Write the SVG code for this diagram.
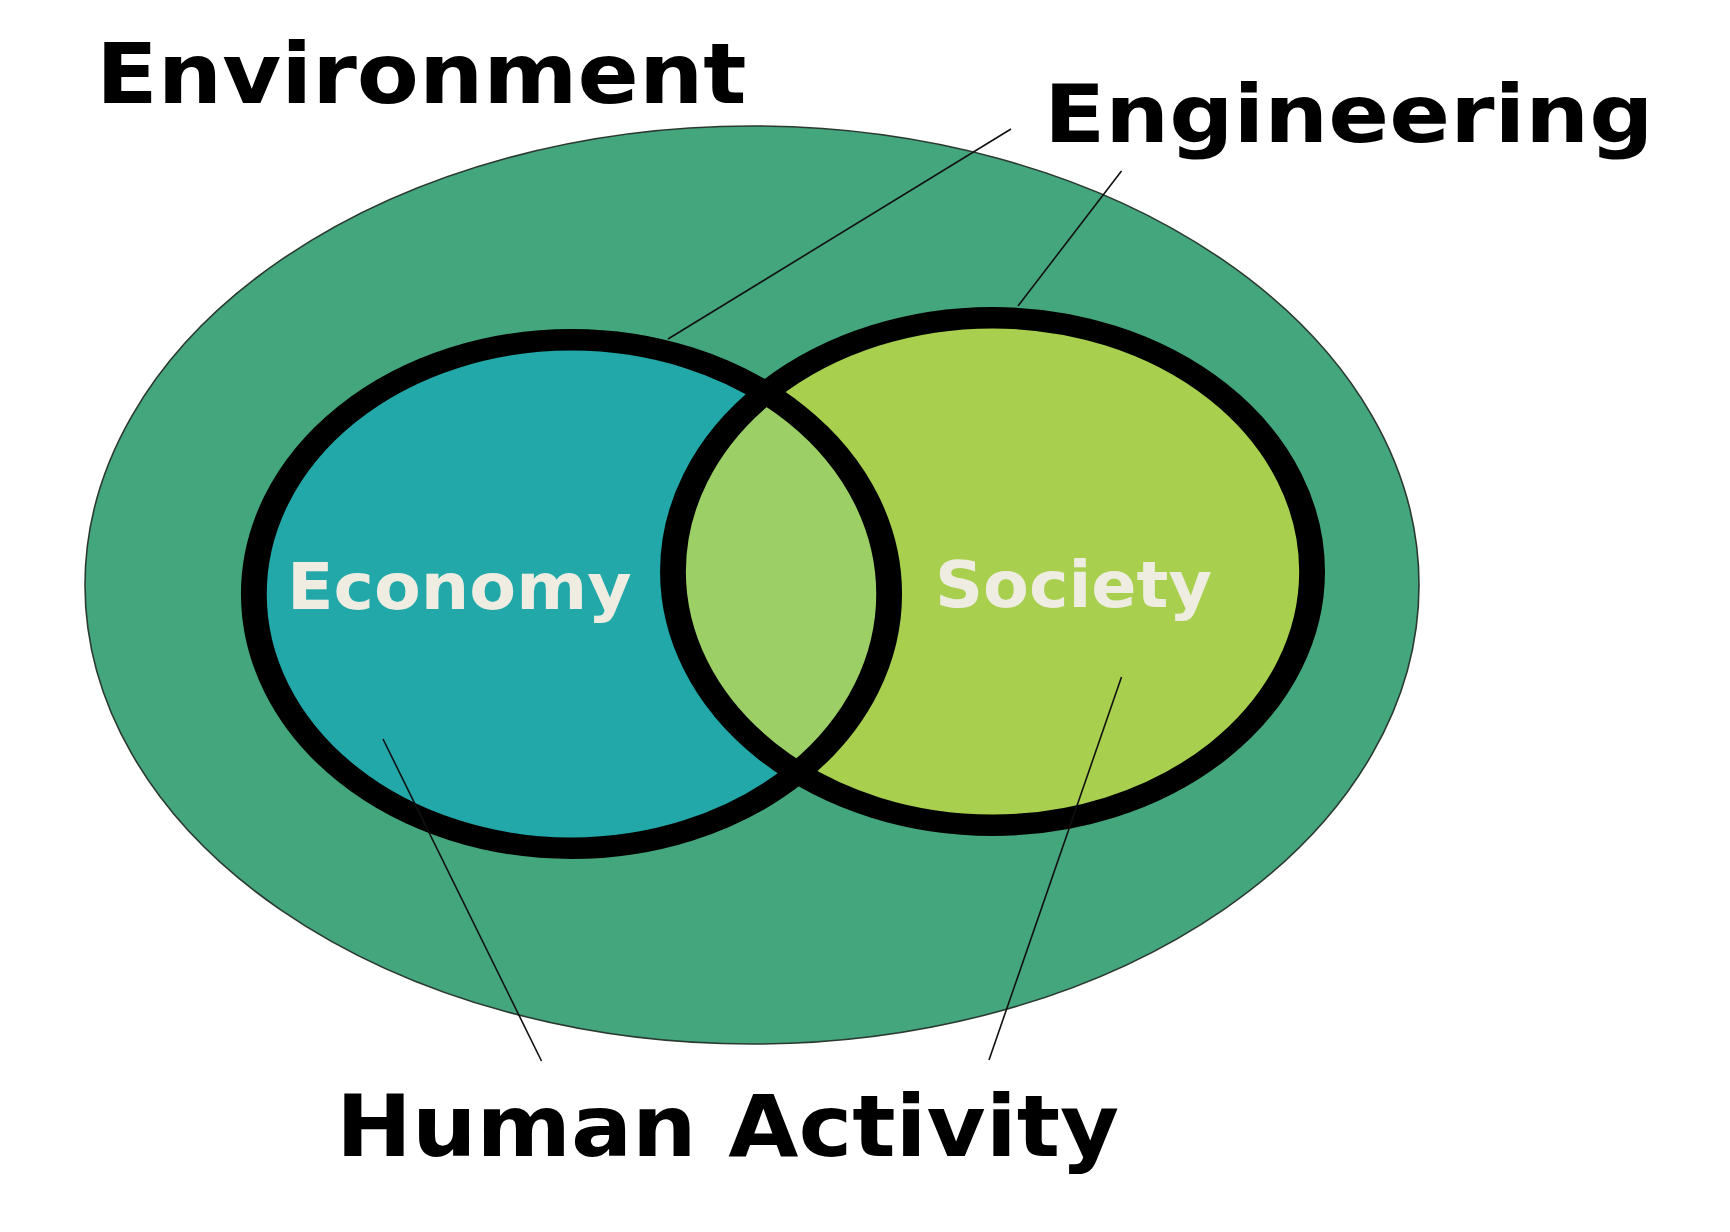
<svg xmlns="http://www.w3.org/2000/svg" width="1730" height="1232" viewBox="0 0 1730 1232">
  <style>
    .lbl { font-family: "DejaVu Sans", Verdana, sans-serif; font-weight: bold; fill: #000; }
    .inner { font-family: "DejaVu Sans", Verdana, sans-serif; font-weight: bold; fill: #EFEDE1; }
    .ring { fill: none; stroke: #000; stroke-width: 21.5; }
    .leader { stroke: #111; stroke-width: 1.6; fill: none; }
  </style>
  <defs>
    <clipPath id="econClip">
      <ellipse cx="476.25" cy="594" rx="264.7" ry="254.25"/>
    </clipPath>
  </defs>
  <rect x="0" y="0" width="1730" height="1232" fill="#ffffff"/>

  <g id="environment">
    <ellipse cx="752" cy="585" rx="667" ry="459" fill="#44A67C" stroke="#2a3a30" stroke-width="1.6"/>
    <text class="lbl" transform="translate(96,103) scale(1.09,1)" x="0" y="0" font-size="83">Environment</text>
  </g>

  <g transform="scale(1.2,1)">
    <g id="economy-fill">
      <ellipse cx="476.25" cy="594" rx="264.7" ry="254.25" fill="#22A8A9"/>
    </g>
    <g id="society-fill">
      <ellipse cx="827.1" cy="571.5" rx="266.3" ry="253.75" fill="#A8CF4E"/>
    </g>
    <g id="overlap">
      <ellipse cx="827.1" cy="571.5" rx="266.3" ry="253.75" fill="#9CCF66" clip-path="url(#econClip)"/>
    </g>
    <g id="rings">
      <ellipse class="ring" cx="476.25" cy="594" rx="264.7" ry="254.25"/>
      <ellipse class="ring" cx="827.1" cy="571.5" rx="266.3" ry="253.75"/>
    </g>
  </g>

  <g id="connectors">
    <line class="leader" x1="668" y1="339" x2="1011" y2="129"/>
    <line class="leader" x1="1018" y1="306" x2="1121.5" y2="171"/>
    <line class="leader" x1="383" y1="739" x2="541.5" y2="1061"/>
    <line class="leader" x1="1121.5" y1="677" x2="989" y2="1060"/>
  </g>

  <g id="economy">
    <text class="inner" transform="translate(287,609) scale(1.065,1)" x="0" y="0" font-size="64">Economy</text>
  </g>
  <g id="society">
    <text class="inner" transform="translate(935,607) scale(1.043,1)" x="0" y="0" font-size="64">Society</text>
  </g>
  <g id="engineering">
    <text class="lbl" transform="translate(1044,142) scale(1.109,1)" x="0" y="0" font-size="81">Engineering</text>
  </g>
  <g id="human-activity">
    <text class="lbl" transform="translate(336,1156) scale(1.067,1)" x="0" y="0" font-size="85">Human Activity</text>
  </g>
</svg>
